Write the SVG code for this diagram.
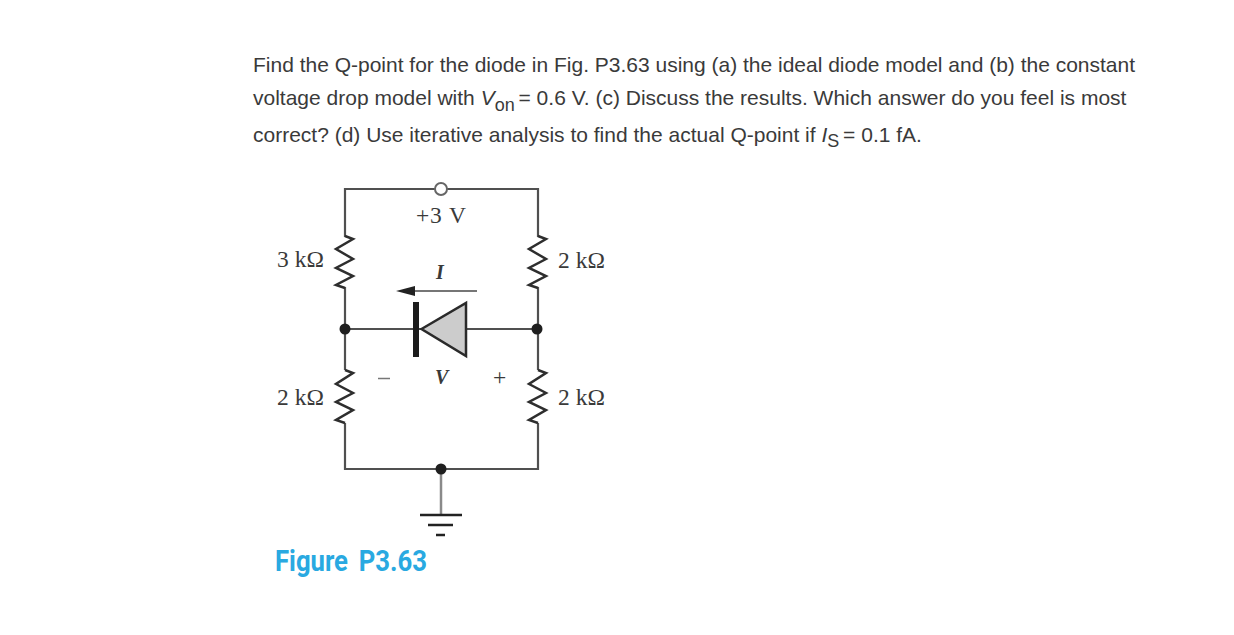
<svg xmlns="http://www.w3.org/2000/svg" width="1234" height="635" viewBox="0 0 1234 635">
<style>
.q{font-family:"Liberation Sans",Arial,sans-serif;font-size:21px;fill:#3a3a3a}
.s{font-size:18px}
.l{font-family:"Liberation Serif","Times New Roman",serif;font-size:23.5px;fill:#3a3a3a}
.v{font-style:italic;font-weight:bold;font-size:20px}
.w{fill:none;stroke:#505050;stroke-width:2.2}
.r{fill:none;stroke:#2e2e2e;stroke-width:2.5}
.dot{fill:#1f1f1f}
</style>
<rect width="1234" height="635" fill="#fff"/>
<g id="question">
<text class="q" x="253" y="72" textLength="882">Find the Q-point for the diode in Fig. P3.63 using (a) the ideal diode model and (b) the constant</text>
<text class="q" x="253" y="105">voltage drop model with <tspan font-style="italic">V</tspan><tspan class="s" dy="6">on</tspan><tspan dy="-6" dx="-2"> = 0.6 V. (c) Discuss the results. Which answer do you feel is most</tspan></text>
<text class="q" x="253" y="142">correct? (d) Use iterative analysis to find the actual Q-point if <tspan font-style="italic">I</tspan><tspan class="s" dy="5">S</tspan><tspan dy="-5" dx="-2"> = 0.1 fA.</tspan></text>
</g>
<g id="connectors">
<path class="w" d="M345 237V189H435M447 189H538V237"/>
<path class="w" d="M345 287V370M538 287V370"/>
<path class="w" d="M345 423V469H538V423"/>
<path class="w" d="M345 329H421M466 329H538"/>
<path d="M441 469V515" fill="none" stroke="#8a8a8a" stroke-width="2.5"/>
</g>
<g id="r1"><path class="r" d="M345 236L353 239L336 249L353 259L336 268L353 276L336 285L345 288"/><text class="l" x="277" y="267">3 kΩ</text></g>
<g id="r2"><path class="r" d="M538 236L546 239L529 249L546 259L529 268L546 276L529 285L538 288"/><text class="l" x="558" y="268">2 kΩ</text></g>
<g id="r3"><path class="r" d="M345 370L353 373L336 384L353 393L336 402L353 410L336 420L345 423"/><text class="l" x="277" y="405">2 kΩ</text></g>
<g id="r4"><path class="r" d="M538 370L546 373L529 384L546 393L529 402L546 410L529 420L538 423"/><text class="l" x="558" y="405">2 kΩ</text></g>
<g id="supply"><circle cx="441" cy="189" r="6" fill="#fff" stroke="#666" stroke-width="2"/><text class="l" x="416" y="223" textLength="50" lengthAdjust="spacing">+3 V</text></g>
<g id="diode">
<path d="M421.5 329L466 303V356Z" fill="#ccc" stroke="#2a2a2a" stroke-width="2.5"/>
<rect x="413" y="302" width="6" height="55" fill="#1c1c1c"/>
</g>
<g id="current"><path d="M412 291H477" stroke="#484848" stroke-width="1.5" fill="none"/><path d="M396 291L415 286V296Z" fill="#222"/><text class="l v" x="436" y="279">I</text></g>
<g id="voltage"><path d="M378 378.500H390" stroke="#777" stroke-width="1.500"/><text class="l v" x="435" y="384">V</text><text class="l" x="493" y="385">+</text></g>
<g id="n1"><circle class="dot" cx="345" cy="329" r="5.500"/></g>
<g id="n2"><circle class="dot" cx="537" cy="329" r="5.500"/></g>
<g id="n3"><circle class="dot" cx="441" cy="469" r="5.500"/></g>
<g id="ground"><path d="M420 515H462M428 525H453M436 535H445" stroke="#222" stroke-width="2.500" fill="none"/></g>
<text id="caption" x="275" y="571" font-family="Roboto,sans-serif" font-weight="700" font-size="29" word-spacing="5" fill="#29a9e1" textLength="152" lengthAdjust="spacingAndGlyphs">Figure P3.63</text>
</svg>
